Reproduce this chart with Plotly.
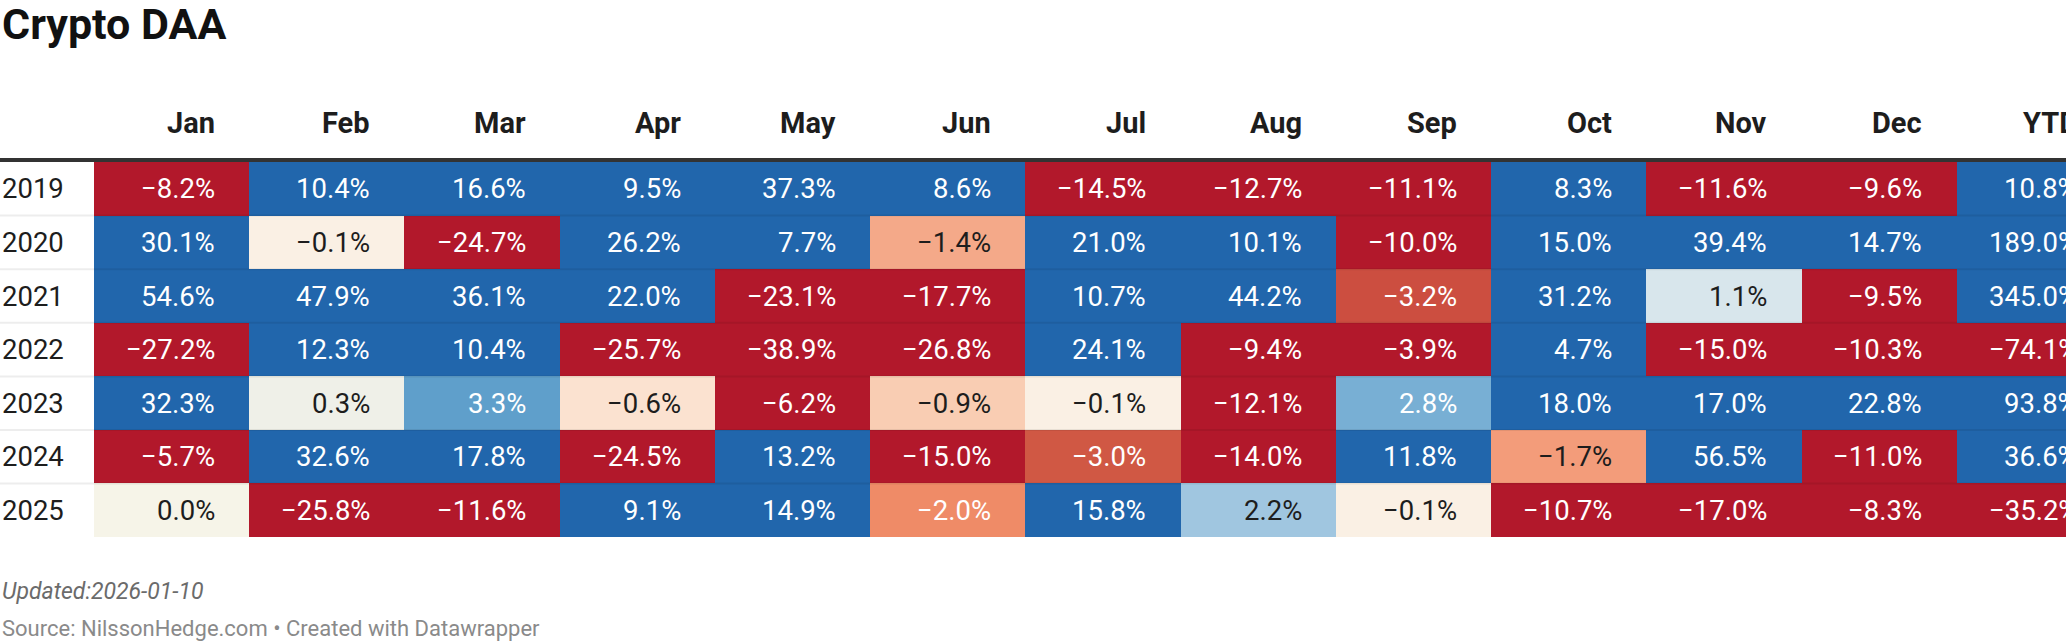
import plotly.graph_objects as go

# ---------------- data ----------------
years = ["2019", "2020", "2021", "2022", "2023", "2024", "2025"]
columns = ["Jan", "Feb", "Mar", "Apr", "May", "Jun", "Jul", "Aug", "Sep", "Oct", "Nov", "Dec", "YTD"]

r2019 = [-8.2, 10.4, 16.6, 9.5, 37.3, 8.6, -14.5, -12.7, -11.1, 8.3, -11.6, -9.6, 10.8]
r2020 = [30.1, -0.1, -24.7, 26.2, 7.7, -1.4, 21.0, 10.1, -10.0, 15.0, 39.4, 14.7, 189.0]
r2021 = [54.6, 47.9, 36.1, 22.0, -23.1, -17.7, 10.7, 44.2, -3.2, 31.2, 1.1, -9.5, 345.0]
r2022 = [-27.2, 12.3, 10.4, -25.7, -38.9, -26.8, 24.1, -9.4, -3.9, 4.7, -15.0, -10.3, -74.1]
r2023 = [32.3, 0.3, 3.3, -0.6, -6.2, -0.9, -0.1, -12.1, 2.8, 18.0, 17.0, 22.8, 93.8]
r2024 = [-5.7, 32.6, 17.8, -24.5, 13.2, -15.0, -3.0, -14.0, 11.8, -1.7, 56.5, -11.0, 36.6]
r2025 = [0.0, -25.8, -11.6, 9.1, 14.9, -2.0, 15.8, 2.2, -0.1, -10.7, -17.0, -8.3, -35.2]
values = [r2019, r2020, r2021, r2022, r2023, r2024, r2025]

title = "Crypto DAA"
note = "Updated:2026-01-10"
source = "Source: NilssonHedge.com • Created with Datawrapper"

# ---------------- style ----------------
W, H = 2066, 642
FONT = "Roboto"
ZMIN, ZMAX = -4.5, 4.5
stops = [
    (-4.5, "#b2182b"), (-3.8, "#b2182b"), (-3.2, "#cc4e40"), (-3.0, "#d05844"),
    (-2.0, "#ef8b67"), (-1.7, "#f39c7a"), (-1.4, "#f4a989"), (-0.9, "#f9cdb3"),
    (-0.6, "#fbe2d0"), (-0.1, "#faf0e4"), (0.0, "#f6f4e8"), (0.3, "#eff0e8"),
    (1.1, "#d8e6ec"), (2.2, "#a0c6e0"), (2.8, "#78afd4"), (3.3, "#5f9fcb"),
    (4.5, "#2166ac"),
]
colorscale = [[(v - ZMIN) / (ZMAX - ZMIN), c] for v, c in stops]

col_w = 155.2      # px per column
first_left = 94    # px where Jan starts
row_h = 53.6       # px per row
first_top = 162    # px where 2019 starts
pad_r = 32         # right padding of text in cells

x_range = [-0.5 - first_left / col_w, -0.5 + (W - first_left) / col_w]
y_range = [-0.5 + (H - first_top) / row_h, -0.5 - first_top / row_h]


def fmt(v):
    return f"{v:.1f}%".replace("-", "\u2212")


fig = go.Figure()
fig.add_trace(go.Heatmap(
    z=values, x=columns, y=years,
    colorscale=colorscale, zmin=ZMIN, zmax=ZMAX,
    showscale=False, hoverinfo="skip",
))

annotations = []
# cell values
for yi, yr in enumerate(years):
    for xi, col in enumerate(columns):
        v = values[yi][xi]
        dark = -1.8 < v < 2.5
        annotations.append(dict(
            x=xi, y=yi, xref="x", yref="y", text=fmt(v), showarrow=False,
            xanchor="right", yanchor="middle", xshift=col_w / 2 - pad_r,
            font=dict(family=FONT, size=27.5, color="#1d1d1d" if dark else "#ffffff"),
        ))
    # year label
    annotations.append(dict(
        x=0, y=yi, xref="paper", yref="y", text=yr, showarrow=False,
        xanchor="left", yanchor="middle",
        font=dict(family=FONT, size=27.5, color="#1d1d1d"),
    ))
# header labels
for xi, col in enumerate(columns):
    annotations.append(dict(
        x=xi, y=1 - 123 / H, xref="x", yref="paper", text=f"<b>{col}</b>", showarrow=False,
        xanchor="right", yanchor="middle", xshift=col_w / 2 - pad_r,
        font=dict(family=FONT, size=29, color="#1d1d1d"),
    ))
# title and footer
annotations.append(dict(
    x=0, y=1 - 24 / H, xref="paper", yref="paper", text=f"<b>{title}</b>", showarrow=False,
    xanchor="left", yanchor="middle", font=dict(family=FONT, size=43, color="#111111"),
))
annotations.append(dict(
    x=0, y=1 - 591 / H, xref="paper", yref="paper", text=f"<i>{note}</i>", showarrow=False,
    xanchor="left", yanchor="middle", font=dict(family=FONT, size=23, color="#6b6b6b"),
))
annotations.append(dict(
    x=0, y=1 - 628 / H, xref="paper", yref="paper", text=source, showarrow=False,
    xanchor="left", yanchor="middle", font=dict(family=FONT, size=22, color="#8a8a8a"),
))

shapes = []
# header rule
shapes.append(dict(type="line", xref="paper", yref="paper", x0=0, x1=1,
                   y0=1 - 160 / H, y1=1 - 160 / H, line=dict(color="#333333", width=4)))
# row separators
for yi in range(len(years) - 1):
    shapes.append(dict(type="line", xref="paper", yref="y", x0=0, x1=1,
                       y0=yi + 0.5, y1=yi + 0.5,
                       line=dict(color="rgba(0,0,0,0.07)", width=2)))

fig.update_layout(
    width=W, height=H, margin=dict(l=0, r=0, t=0, b=0),
    paper_bgcolor="white", plot_bgcolor="white",
    xaxis=dict(range=x_range, visible=False, fixedrange=True),
    yaxis=dict(range=y_range, visible=False, fixedrange=True),
    annotations=annotations, shapes=shapes, showlegend=False,
)

fig.write_html(
    "out.html",
    config={"displayModeBar": False},
    post_script="document.body.style.margin='0';document.body.style.overflow='hidden';",
)
